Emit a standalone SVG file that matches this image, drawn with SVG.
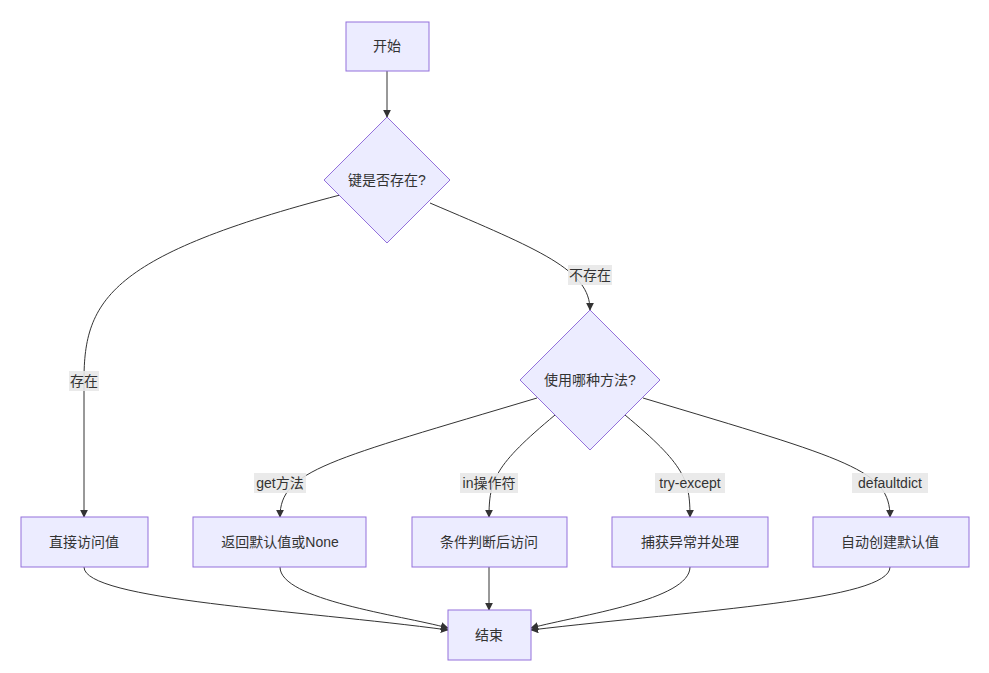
<svg xmlns="http://www.w3.org/2000/svg" width="989" height="673" viewBox="0 0 989 673">
<style>
.n{fill:#ECECFF;stroke:#9370DB;stroke-width:1}
.t{font-family:"Liberation Sans","Noto Sans CJK SC",sans-serif;font-size:14px;fill:#333;text-anchor:middle;dominant-baseline:central}
.e{fill:none;stroke:#333;stroke-width:1;marker-end:url(#a)}
.lb{fill:#e8e8e8;opacity:0.9}
</style>
<defs><marker id="a" viewBox="0 0 10 10" refX="9" refY="5" markerWidth="8" markerHeight="8" orient="auto"><path d="M0,0L10,5L0,10z" fill="#333"/></marker></defs>
<rect width="989" height="673" fill="#fff"/>
<g id="edges">
<path class="e" d="M387,71L387,117"/>
<path class="e" d="M340,195C110,255 84,300 84,380L84,517"/>
<path class="e" d="M430,203C540,250 590,270 590,310"/>
<path class="e" d="M537,398C330,460 280,470 280,517"/>
<path class="e" d="M555,415C495,465 489,480 489,517"/>
<path class="e" d="M625,415C685,465 690,480 690,517"/>
<path class="e" d="M643,398C850,460 890,470 890,517"/>
<path class="e" d="M84,567C84,600 300,610 448,630"/>
<path class="e" d="M280,567C280,600 400,615 448,628"/>
<path class="e" d="M489,567L489,610"/>
<path class="e" d="M690,567C690,600 580,615 531,628"/>
<path class="e" d="M890,567C890,600 700,610 531,630"/>
<rect class="lb" x="568" y="265" width="44" height="20"/><text class="t" x="590" y="275">不存在</text>
<rect class="lb" x="69" y="371" width="30" height="20"/><text class="t" x="84" y="381">存在</text>
<rect class="lb" x="254" y="473" width="52" height="20"/><text class="t" x="280" y="483">get方法</text>
<rect class="lb" x="460" y="473" width="58" height="20"/><text class="t" x="489" y="483">in操作符</text>
<rect class="lb" x="655" y="473" width="70" height="20"/><text class="t" x="690" y="483">try-except</text>
<rect class="lb" x="852" y="473" width="76" height="20"/><text class="t" x="890" y="483">defaultdict</text>
</g>
<g id="start"><rect class="n" x="346" y="22" width="83" height="49"/><text class="t" x="387" y="46">开始</text></g>
<g id="d1"><path class="n" d="M387,117L450,180L387,243L324,180Z"/><text class="t" x="387" y="180">键是否存在?</text></g>
<g id="d2"><path class="n" d="M590,310L660,380L590,450L520,380Z"/><text class="t" x="590" y="380">使用哪种方法?</text></g>
<g id="n1"><rect class="n" x="21" y="517" width="127" height="50"/><text class="t" x="84" y="542">直接访问值</text></g>
<g id="n2"><rect class="n" x="193" y="517" width="173" height="50"/><text class="t" x="280" y="542">返回默认值或None</text></g>
<g id="n3"><rect class="n" x="412" y="517" width="155" height="50"/><text class="t" x="489" y="542">条件判断后访问</text></g>
<g id="n4"><rect class="n" x="612" y="517" width="156" height="50"/><text class="t" x="690" y="542">捕获异常并处理</text></g>
<g id="n5"><rect class="n" x="813" y="517" width="156" height="50"/><text class="t" x="890" y="542">自动创建默认值</text></g>
<g id="end"><rect class="n" x="448" y="610" width="83" height="50"/><text class="t" x="489" y="635">结束</text></g>
</svg>
